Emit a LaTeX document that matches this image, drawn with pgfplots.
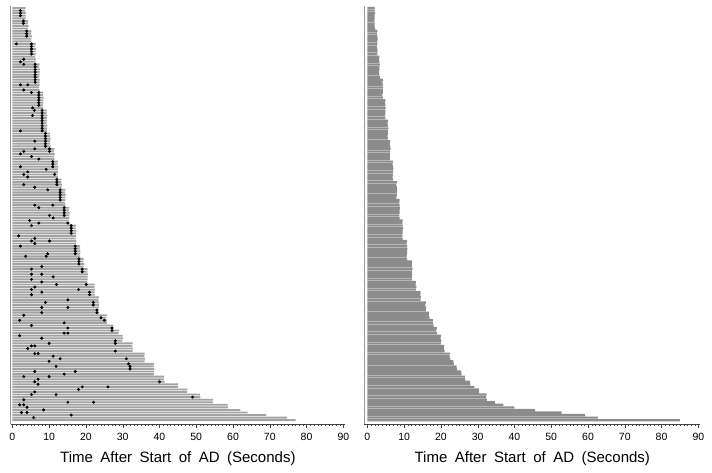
\documentclass[border=0pt]{standalone}
\usepackage{fontspec}
\setmainfont{Liberation Sans}
\usepackage{pgfplots}
\pgfplotsset{compat=1.18}

\newcommand\wsp{\hspace{0.5em}}
\pgfplotsset{raster/.style={
  scale only axis, height=418pt,
  ymin=-162.5, ymax=0.8,
  axis x line=bottom, axis y line=left,
  x axis line style={-, black!75}, y axis line style={-, black!40},
  xtick={0,10,...,90}, minor x tick num=9, ytick=\empty,
  tick align=outside, major tick length=3.5pt, minor tick length=2pt,
  tick style={black!75},
  /pgf/number format/assume math mode=true,
  xticklabel style={font=\fontsize{10.5}{12}\selectfont, yshift=-2pt},
  xlabel={Time\wsp After\wsp Start\wsp of\wsp AD\wsp (Seconds)},
  xlabel style={font=\fontsize{15}{18}\selectfont,
    at={(axis description cs:0.5,0)}, anchor=base, yshift=-38.5pt},
}}

\begin{document}
\begin{tikzpicture}
\useasboundingbox (0,0) rectangle (712pt,472pt);

% left panel: one bar per subject, dots = events
\begin{axis}[raster, at={(10.5pt,48pt)}, anchor=south west,
  width=334.7pt, xmin=-0.5, xmax=90.5]
\addplot[xbar, bar width=0.72, fill=black!36, draw=none]
  table[row sep=\\, x=t, y expr=-\coordindex] {
t\\
3.6\\ 3.5\\ 3.7\\ 3.6\\ 3.6\\
4.3\\ 4.2\\ 4.4\\ 4.3\\
5.2\\ 5.1\\ 5.3\\ 5.2\\ 5.2\\
6.3\\ 6.2\\ 6.4\\ 6.3\\ 6.3\\ 6.2\\ 6.4\\ 6.3\\
7.4\\ 7.3\\ 7.5\\ 7.4\\ 7.4\\ 7.3\\ 7.5\\ 7.4\\ 7.4\\ 7.3\\ 7.4\\
8.4\\ 8.3\\ 8.5\\ 8.4\\ 8.4\\ 8.3\\ 8.4\\
9.4\\ 9.3\\ 9.5\\ 9.4\\ 9.4\\ 9.3\\ 9.5\\ 9.4\\ 9.4\\
10.3\\ 10.2\\ 10.4\\ 10.3\\ 10.3\\ 10.4\\
11.4\\ 11.3\\ 11.5\\ 11.4\\ 11.4\\
12.4\\ 12.3\\ 12.5\\ 12.4\\ 12.4\\ 12.3\\ 12.4\\
13.4\\ 13.3\\ 13.5\\ 13.4\\
14.4\\ 14.3\\ 14.5\\ 14.4\\ 14.4\\ 14.3\\ 14.4\\
15.5\\ 15.4\\ 15.6\\ 15.5\\ 15.5\\ 15.4\\ 15.5\\
17.3\\ 17.2\\ 17.4\\ 17.3\\ 17.3\\ 17.2\\ 17.4\\ 17.3\\
18.4\\ 18.3\\ 18.5\\ 18.4\\ 18.4\\
19.4\\ 19.3\\ 19.5\\ 19.4\\
20.5\\ 20.4\\ 20.6\\ 20.5\\ 20.5\\ 20.4\\
22.4\\ 22.3\\ 22.5\\ 22.4\\ 22.4\\
23.5\\ 23.4\\ 23.6\\ 23.5\\ 23.5\\ 23.4\\ 23.6\\
25.7\\ 25.6\\ 25.8\\ 25.7\\
27.5\\ 27.4\\
29.0\\ 28.9\\
30.0\\ 30.1\\ 29.9\\
32.7\\ 32.6\\ 32.8\\ 32.7\\
36.0\\ 35.9\\ 36.1\\ 36.0\\
38.5\\ 38.4\\ 38.6\\ 38.5\\ 38.5\\
41.3\\ 41.2\\ 41.4\\
45.0\\ 45.1\\
47.6\\ 47.5\\
51.0\\ 51.1\\
54.6\\ 54.5\\
58.5\\ 58.6\\
62.0\\ 64.0\\ 69.0\\ 74.7\\ 77.0\\
};
\addplot[only marks, mark=*, mark size=1.3pt, black]
  table[row sep=\\, x=t, y expr=-\thisrow{r}] {
t r\\
2.2 1\\ 2.2 2\\ 2.2 3\\ 3.0 5\\ 3.0 6\\ 3.9 9\\ 3.9 10\\ 3.9 11\\
5.2 14\\ 5.2 15\\ 5.2 16\\ 5.2 17\\ 5.2 18\\
6.2 22\\ 6.2 23\\ 6.2 24\\ 6.2 25\\ 6.2 26\\ 6.2 27\\ 6.2 28\\ 6.2 29\\
7.2 33\\ 7.2 34\\ 7.2 35\\ 7.2 36\\ 7.2 37\\ 7.2 38\\
8.1 40\\ 8.1 41\\ 8.1 42\\ 8.1 43\\ 8.1 44\\ 8.1 45\\ 8.1 46\\ 8.1 47\\ 8.1 48\\
9.0 49\\ 9.0 50\\ 9.0 51\\ 9.0 52\\ 9.0 53\\ 9.0 54\\
10.1 55\\ 10.1 56\\ 11.0 60\\ 11.0 61\\ 11.0 62\\
12.1 67\\ 12.1 68\\ 12.1 69\\
13.0 71\\ 13.0 72\\ 13.0 73\\ 13.0 74\\ 13.0 75\\
14.1 78\\ 14.1 79\\ 14.1 80\\ 14.1 81\\
16.0 85\\ 16.0 86\\ 16.0 87\\ 16.0 88\\
17.1 93\\ 17.1 94\\ 17.1 95\\ 18.1 98\\ 18.1 99\\ 18.1 100\\
19.0 102\\ 19.0 103\\ 21.0 111\\ 21.0 112\\ 22.0 115\\ 22.0 116\\
23.0 118\\ 23.0 119\\ 24.1 121\\ 25.0 122\\ 27.1 125\\ 27.1 126\\
28.0 130\\ 28.0 131\\ 28.0 134\\ 31.0 137\\ 31.6 139\\ 32.0 140\\ 32.0 141\\
40.0 146\\ 49.0 152\\
1.1 14\\ 2.2 21\\ 3.1 20\\ 3.1 22\\ 2.2 30\\ 4.2 30\\ 3.1 32\\ 5.2 33\\
5.5 39\\ 6.0 40\\ 5.5 42\\ 2.2 48\\ 6.1 52\\ 6.1 55\\
3.1 56\\ 2.2 57\\ 5.2 58\\ 7.2 59\\ 2.2 62\\ 4.2 64\\ 3.1 65\\ 4.2 66\\
9.2 63\\ 11.5 65\\ 3.1 69\\ 6.1 70\\ 9.6 71\\ 11.0 77\\ 6.1 77\\ 7.2 78\\
10.1 81\\ 11.1 82\\ 4.7 83\\ 7.2 84\\ 5.2 85\\ 15.1 84\\ 1.7 89\\ 6.1 90\\
5.2 91\\ 6.1 92\\ 2.2 93\\ 10.1 91\\ 9.6 96\\ 9.2 97\\ 3.6 97\\ 17.1 96\\
5.2 102\\ 8.0 101\\ 5.2 104\\ 8.0 104\\ 11.1 105\\ 5.2 106\\ 8.0 107\\
12.0 108\\ 20.1 108\\ 6.1 109\\ 18.0 110\\ 5.2 110\\ 8.0 111\\ 5.2 112\\
9.0 115\\ 15.1 114\\ 8.0 117\\ 15.1 117\\ 8.0 119\\ 3.1 120\\ 2.0 122\\
14.1 123\\ 5.2 124\\ 15.1 125\\ 15.1 127\\ 14.1 127\\ 2.0 128\\ 8.0 129\\
10.0 131\\ 5.2 132\\ 6.1 132\\ 4.2 133\\ 7.0 135\\ 6.1 135\\ 11.1 136\\
13.0 137\\ 10.0 138\\ 11.9 140\\ 6.1 142\\ 17.1 142\\ 14.1 143\\ 10.0 144\\
3.1 144\\ 7.0 145\\ 6.1 146\\ 7.0 147\\ 19.0 148\\ 26.0 148\\ 18.0 149\\
6.1 150\\ 5.2 151\\ 11.9 151\\ 3.1 153\\ 15.1 154\\ 22.1 154\\ 2.0 155\\
3.1 155\\ 4.0 156\\ 8.5 157\\ 4.0 158\\ 2.5 158\\ 16.0 159\\ 5.8 160\\
};
\end{axis}

% right panel
\begin{axis}[raster, at={(364.4pt,48pt)}, anchor=south west,
  width=335.8pt, xmin=-0.8, xmax=90.5]
\addplot[xbar, bar width=0.86, fill=black!45, draw=none]
  table[row sep=\\, x=t, y expr=-\coordindex] {
t\\
2.0\\ 2.0\\ 2.1\\ 2.0\\ 2.0\\ 1.9\\ 2.0\\ 2.0\\ 2.1\\
2.7\\ 2.6\\ 2.7\\ 2.8\\ 2.7\\ 2.7\\ 2.6\\ 2.7\\ 2.8\\ 2.7\\
3.3\\ 3.2\\ 3.3\\ 3.4\\ 3.3\\ 3.3\\ 3.2\\ 3.3\\ 3.4\\
4.2\\ 4.1\\ 4.2\\ 4.3\\ 4.2\\ 4.2\\ 4.1\\ 4.2\\
4.9\\ 4.8\\ 4.9\\ 5.0\\ 4.9\\ 4.9\\ 4.8\\ 4.9\\
5.6\\ 5.5\\ 5.6\\ 5.7\\ 5.6\\ 5.6\\ 5.5\\ 5.6\\
6.2\\ 6.1\\ 6.2\\ 6.3\\ 6.2\\ 6.2\\ 6.1\\ 6.2\\
7.0\\ 6.9\\ 7.0\\ 7.1\\ 7.0\\ 7.0\\ 6.9\\ 7.0\\
8.0\\ 7.9\\ 8.0\\ 8.1\\ 8.0\\ 8.0\\ 7.9\\
8.8\\ 8.7\\ 8.8\\ 8.9\\ 8.8\\ 8.8\\ 8.7\\ 8.8\\
9.6\\ 9.5\\ 9.6\\ 9.7\\ 9.6\\ 9.6\\ 9.5\\ 9.6\\
10.8\\ 10.7\\ 10.8\\ 10.9\\ 10.8\\ 10.8\\ 10.7\\ 10.8\\
12.2\\ 12.1\\ 12.2\\ 12.3\\ 12.2\\ 12.2\\ 12.1\\ 12.2\\
13.2\\ 13.1\\ 13.3\\ 13.2\\
14.5\\ 14.4\\ 14.6\\ 14.5\\
15.9\\ 15.8\\ 16.0\\ 15.9\\
16.8\\ 16.7\\ 16.9\\
17.9\\ 17.8\\ 18.0\\
18.9\\ 18.8\\ 19.0\\
20.0\\ 19.9\\ 20.1\\ 20.0\\
20.9\\ 20.8\\ 21.0\\
22.5\\ 22.4\\ 22.6\\
23.4\\ 23.5\\
24.3\\ 24.4\\
25.5\\ 25.6\\
26.5\\ 26.6\\
27.9\\ 28.0\\
29.1\\
30.3\\ 30.4\\
32.4\\ 32.3\\ 32.5\\
34.7\\ 37.0\\ 40.0\\ 45.6\\ 52.8\\ 59.2\\ 62.7\\ 85.0\\
};
\end{axis}
\end{tikzpicture}
\end{document}
